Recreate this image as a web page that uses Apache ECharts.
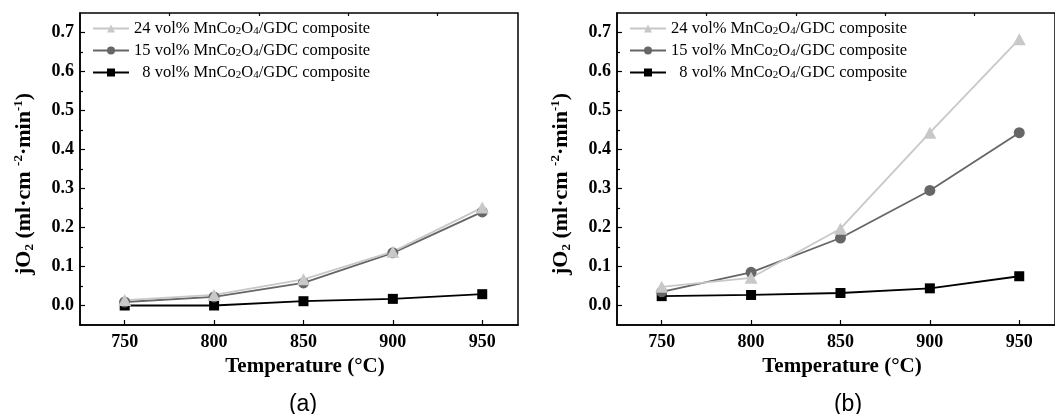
<!DOCTYPE html>
<html>
<head>
<meta charset="utf-8">
<script src="https://cdn.jsdelivr.net/npm/echarts@6/dist/echarts.min.js"></script>
<style>
  html, body { margin: 0; padding: 0; background: #fff; }
  #chart { width: 1055px; height: 414px; }
</style>
</head>
<body>
<div id="chart"></div>
<script>
  // temperatures (°C)
  const temps = [750, 800, 850, 900, 950];

  // panel (a)
  const a24 = [0.014, 0.027, 0.067, 0.138, 0.251];
  const a15 = [0.009, 0.022, 0.058, 0.135, 0.240];
  const a8 = [0.000, 0.000, 0.011, 0.017, 0.029];

  // panel (b)
  const b24 = [0.048, 0.071, 0.197, 0.443, 0.683];
  const b15 = [0.035, 0.085, 0.173, 0.295, 0.443];
  const b8 = [0.024, 0.027, 0.032, 0.044, 0.075];

  const seriesNames = ['24 vol% MnCo2O4/GDC composite', '15 vol% MnCo2O4/GDC composite', '8 vol% MnCo2O4/GDC composite'];
  const legendLabels = [
    '{n|24 vol% MnCo}{s|2}{n|O}{s|4}{n|/GDC composite}',
    '{n|15 vol% MnCo}{s|2}{n|O}{s|4}{n|/GDC composite}',
    '{n|  8 vol% MnCo}{s|2}{n|O}{s|4}{n|/GDC composite}'
  ];
  const panelTitles = ['(a)', '(b)'];

  const xMajor = [750, 800, 850, 900, 950];
  const xMinor = [775, 825, 875, 925];
  const yMajor = [0, 0.1, 0.2, 0.3, 0.4, 0.5, 0.6, 0.7];
  const yMinor = [0.05, 0.15, 0.25, 0.35, 0.45, 0.55, 0.65];

  const serif = 'Liberation Serif';
  const pair = (vals) => temps.map((t, i) => [t, vals[i]]);

  const styles = [
    { color: '#c8c8c8', symbol: 'triangle', size: [13, 12] },
    { color: '#666666', symbol: 'circle', size: 11 },
    { color: '#000000', symbol: 'rect', size: 10 }
  ];

  const grids = [
    { left: 80, top: 13, width: 438, height: 312 },
    { left: 617, top: 13, width: 440, height: 312 }
  ];

  const yName = '{b|jO}{sb|2}{b| (ml·cm }{sp|-2}{b|·min}{sp|-1}{b|)}';

  const xAxes = [];
  const yAxes = [];
  grids.forEach((g, gi) => {
    xAxes.push({
      type: 'value', gridIndex: gi, min: 725, max: 970,
      name: 'Temperature (°C)', nameLocation: 'middle', nameGap: 30,
      nameTextStyle: { fontFamily: serif, fontWeight: 'bold', fontSize: 21, color: '#000', padding: [0, 0, 0, 12] },
      axisLine: { show: true, onZero: false, lineStyle: { color: '#000', width: 1.5 } },
      axisTick: { inside: true, length: 5, customValues: xMajor, lineStyle: { color: '#000', width: 1.2 } },
      axisLabel: { customValues: xMajor, margin: 8, fontFamily: serif, fontWeight: 'bold', fontSize: 18, color: '#000' },
      splitLine: { show: false }
    });
    xAxes.push({
      type: 'value', gridIndex: gi, min: 725, max: 970,
      axisLine: { show: false, onZero: false },
      axisTick: { inside: true, length: 3, customValues: xMinor, lineStyle: { color: '#000', width: 1.2 } },
      axisLabel: { show: false },
      splitLine: { show: false }
    });
    yAxes.push({
      type: 'value', gridIndex: gi, min: -0.05, max: 0.75, position: 'left',
      name: yName, nameLocation: 'middle', nameGap: 44,
      nameTextStyle: {
        color: '#000',
        padding: [0, 30, 0, 0],
        rich: {
          b: { fontFamily: serif, fontWeight: 'bold', fontSize: 22, color: '#000', lineHeight: 24 },
          sb: { fontFamily: serif, fontWeight: 'bold', fontSize: 13, color: '#000', verticalAlign: 'bottom', lineHeight: 17 },
          sp: { fontFamily: serif, fontWeight: 'bold', fontSize: 13, color: '#000', verticalAlign: 'top', lineHeight: 13 }
        }
      },
      axisLine: { show: true, onZero: false, lineStyle: { color: '#000', width: 1.5 } },
      axisTick: { inside: true, length: 5, customValues: yMajor, lineStyle: { color: '#000', width: 1.2 } },
      axisLabel: { customValues: yMajor, margin: 6, formatter: (v) => v.toFixed(1), fontFamily: serif, fontWeight: 'bold', fontSize: 18, color: '#000' },
      splitLine: { show: false }
    });
    yAxes.push({
      type: 'value', gridIndex: gi, min: -0.05, max: 0.75, position: 'left',
      axisLine: { show: false, onZero: false },
      axisTick: { inside: true, length: 3, customValues: yMinor, lineStyle: { color: '#000', width: 1.2 } },
      axisLabel: { show: false },
      splitLine: { show: false }
    });
  });

  const panelData = [[a24, a15, a8], [b24, b15, b8]];
  const series = [];
  panelData.forEach((sets, gi) => {
    // draw 8 vol% first so lighter series sit on top like in the figure
    [2, 1, 0].forEach((k) => {
      series.push({
        name: seriesNames[k], type: 'line',
        xAxisIndex: gi * 2, yAxisIndex: gi * 2,
        data: pair(sets[k]),
        symbol: styles[k].symbol, symbolSize: styles[k].size,
        itemStyle: { color: styles[k].color },
        lineStyle: { color: styles[k].color, width: 1.8 },
        emphasis: { disabled: true },
        animation: false
      });
    });
  });

  const legends = grids.map((g, gi) => ({
    orient: 'vertical', left: g.left + 12, top: 20, padding: 0,
    data: seriesNames, itemWidth: 36, itemHeight: 10, itemGap: 5,
    selectedMode: false,
    formatter: (name) => legendLabels[seriesNames.indexOf(name)],
    textStyle: {
      color: '#000',
      rich: {
        n: { fontFamily: serif, fontSize: 16.5, color: '#000', lineHeight: 16 },
        s: { fontFamily: serif, fontSize: 11, color: '#000', verticalAlign: 'bottom', lineHeight: 14 }
      }
    }
  }));

  const titles = [
    { text: panelTitles[0], left: 298, top: 388, textAlign: 'center', textStyle: { fontFamily: 'Liberation Sans', fontWeight: 'normal', fontSize: 23, color: '#000' } },
    { text: panelTitles[1], left: 843, top: 388, textAlign: 'center', textStyle: { fontFamily: 'Liberation Sans', fontWeight: 'normal', fontSize: 23, color: '#000' } }
  ];

  const chart = echarts.init(document.getElementById('chart'));
  chart.setOption({
    backgroundColor: '#fff',
    animation: false,
    title: titles,
    legend: legends,
    grid: grids.map((g) => Object.assign({ show: true, borderColor: '#000', borderWidth: 1.5, backgroundColor: 'transparent' }, g)),
    xAxis: xAxes,
    yAxis: yAxes,
    series: series
  });
</script>
</body>
</html>
